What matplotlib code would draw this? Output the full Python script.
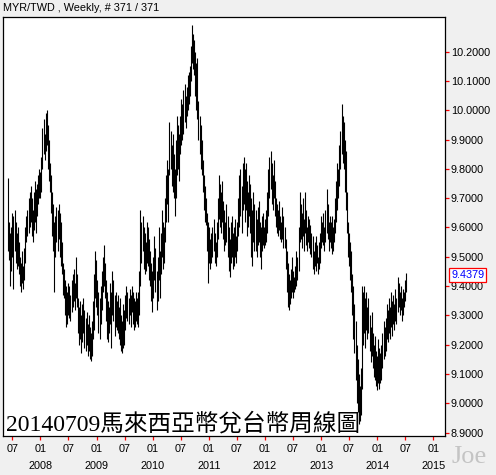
import matplotlib
matplotlib.use('Agg')
import matplotlib.pyplot as plt
import matplotlib.dates as mdates
import matplotlib.transforms as mtransforms
import pandas as pd

# ---- data (weekly high / low) ----
highs = [
    9.77, 9.62, 9.58, 9.60, 9.65, 9.64, 9.66, 9.62, 9.58, 9.60,
    9.55, 9.50, 9.48, 9.52, 9.47, 9.53, 9.60, 9.64, 9.66, 9.70,
    9.72, 9.74, 9.70, 9.66, 9.72, 9.76, 9.73, 9.75, 9.78, 9.80,
    9.79, 9.84, 9.94, 9.97, 9.92, 9.99, 10.00, 9.95, 9.90, 9.82,
    9.78, 9.72, 9.68, 9.62, 9.64, 9.67, 9.66, 9.68, 9.65, 9.62,
    9.55, 9.48, 9.46, 9.42, 9.40, 9.38, 9.41, 9.40, 9.37, 9.42,
    9.44, 9.46, 9.41, 9.50, 9.44, 9.36, 9.33, 9.35, 9.30, 9.34,
    9.36, 9.32, 9.29, 9.31, 9.27, 9.30, 9.26, 9.24, 9.28, 9.35,
    9.44, 9.52, 9.49, 9.42, 9.38, 9.36, 9.40, 9.45, 9.50, 9.54,
    9.48, 9.42, 9.38, 9.35, 9.33, 9.41, 9.38, 9.45, 9.42, 9.37,
    9.38, 9.35, 9.37, 9.33, 9.36, 9.30, 9.28, 9.34, 9.32, 9.37,
    9.40, 9.38, 9.36, 9.39, 9.37, 9.40, 9.38, 9.36, 9.35, 9.38,
    9.36, 9.38, 9.45, 9.66, 9.62, 9.64, 9.60, 9.58, 9.55, 9.62,
    9.60, 9.56, 9.52, 9.48, 9.45, 9.50, 9.57, 9.53, 9.45, 9.50,
    9.60, 9.52, 9.58, 9.66, 9.62, 9.60, 9.70, 9.78, 9.83, 9.80,
    9.96, 9.93, 9.88, 9.92, 9.85, 9.80, 9.90, 9.98, 9.95, 9.92,
    9.98, 10.04, 10.02, 10.07, 10.09, 10.05, 10.08, 10.12, 10.13, 10.15,
    10.22, 10.29, 10.26, 10.24, 10.20, 10.16, 10.18, 10.03, 9.98, 9.95,
    9.90, 9.83, 9.78, 9.74, 9.70, 9.65, 9.62, 9.60, 9.56, 9.58,
    9.60, 9.63, 9.58, 9.55, 9.62, 9.70, 9.78, 9.75, 9.72, 9.76,
    9.69, 9.66, 9.62, 9.68, 9.64, 9.60, 9.56, 9.62, 9.64, 9.58,
    9.60, 9.63, 9.57, 9.62, 9.70, 9.78, 9.80, 9.74, 9.82, 9.84,
    9.80, 9.82, 9.76, 9.72, 9.78, 9.75, 9.70, 9.66, 9.72, 9.68,
    9.66, 9.63, 9.67, 9.69, 9.62, 9.60, 9.64, 9.65, 9.60, 9.63,
    9.66, 9.72, 9.80, 9.84, 9.86, 9.82, 9.78, 9.83, 9.76, 9.70,
    9.68, 9.66, 9.69, 9.64, 9.62, 9.67, 9.64, 9.60, 9.56, 9.52,
    9.48, 9.44, 9.42, 9.46, 9.50, 9.45, 9.43, 9.47, 9.52, 9.50,
    9.60, 9.72, 9.68, 9.65, 9.70, 9.63, 9.72, 9.66, 9.60, 9.64,
    9.63, 9.61, 9.58, 9.57, 9.52, 9.55, 9.57, 9.54, 9.50, 9.55,
    9.58, 9.64, 9.62, 9.65, 9.60, 9.66, 9.73, 9.68, 9.62, 9.64,
    9.62, 9.64, 9.60, 9.63, 9.70, 9.76, 9.82, 9.80, 9.88, 9.93,
    10.02, 9.98, 9.96, 9.90, 9.86, 9.72, 9.62, 9.58, 9.55, 9.52,
    9.44, 9.40, 9.34, 9.28, 9.20, 9.15, 9.10, 9.06, 9.12, 9.40,
    9.38, 9.40, 9.36, 9.38, 9.33, 9.36, 9.30, 9.26, 9.31, 9.24,
    9.20, 9.23, 9.18, 9.16, 9.22, 9.19, 9.17, 9.20, 9.24, 9.28,
    9.26, 9.29, 9.34, 9.32, 9.36, 9.33, 9.38, 9.35, 9.37, 9.34,
    9.39, 9.36, 9.43, 9.41, 9.38, 9.40, 9.36, 9.39, 9.38, 9.42, 9.445,
]
lows = [
    9.52, 9.49, 9.40, 9.45, 9.50, 9.39, 9.52, 9.48, 9.46, 9.47,
    9.44, 9.40, 9.38, 9.41, 9.39, 9.42, 9.48, 9.55, 9.57, 9.58,
    9.60, 9.62, 9.57, 9.55, 9.59, 9.62, 9.58, 9.64, 9.68, 9.70,
    9.70, 9.72, 9.80, 9.85, 9.83, 9.86, 9.88, 9.80, 9.76, 9.72,
    9.65, 9.57, 9.52, 9.38, 9.50, 9.55, 9.52, 9.56, 9.50, 9.47,
    9.44, 9.37, 9.36, 9.30, 9.26, 9.27, 9.30, 9.29, 9.28, 9.31,
    9.33, 9.35, 9.32, 9.36, 9.33, 9.24, 9.20, 9.22, 9.17, 9.21,
    9.24, 9.19, 9.18, 9.20, 9.16, 9.18, 9.15, 9.145, 9.16, 9.22,
    9.25, 9.36, 9.33, 9.30, 9.24, 9.22, 9.27, 9.32, 9.38, 9.40,
    9.36, 9.28, 9.22, 9.21, 9.24, 9.27, 9.19, 9.30, 9.28, 9.23,
    9.26, 9.25, 9.24, 9.22, 9.20, 9.18, 9.17, 9.19, 9.20, 9.25,
    9.29, 9.28, 9.27, 9.30, 9.26, 9.31, 9.27, 9.25, 9.26, 9.28,
    9.27, 9.26, 9.30, 9.40, 9.48, 9.52, 9.46, 9.44, 9.45, 9.48,
    9.47, 9.42, 9.40, 9.35, 9.31, 9.36, 9.42, 9.38, 9.32, 9.35,
    9.42, 9.36, 9.44, 9.50, 9.46, 9.48, 9.55, 9.62, 9.68, 9.62,
    9.78, 9.80, 9.74, 9.72, 9.70, 9.64, 9.70, 9.78, 9.80, 9.76,
    9.85, 9.88, 9.90, 9.92, 9.96, 9.94, 9.98, 10.00, 10.02, 10.05,
    10.10, 10.16, 10.14, 10.12, 10.05, 10.00, 9.97, 9.90, 9.85, 9.80,
    9.78, 9.72, 9.66, 9.62, 9.61, 9.52, 9.41, 9.48, 9.46, 9.48,
    9.50, 9.52, 9.48, 9.47, 9.50, 9.56, 9.63, 9.60, 9.58, 9.62,
    9.56, 9.52, 9.54, 9.55, 9.50, 9.45, 9.43, 9.48, 9.50, 9.46,
    9.47, 9.50, 9.48, 9.52, 9.57, 9.60, 9.64, 9.58, 9.66, 9.68,
    9.62, 9.66, 9.57, 9.60, 9.64, 9.58, 9.50, 9.47, 9.55, 9.52,
    9.52, 9.50, 9.54, 9.55, 9.50, 9.46, 9.52, 9.54, 9.53, 9.54,
    9.55, 9.58, 9.64, 9.70, 9.73, 9.68, 9.66, 9.70, 9.64, 9.60,
    9.58, 9.57, 9.59, 9.56, 9.55, 9.56, 9.53, 9.53, 9.46, 9.38,
    9.33, 9.32, 9.34, 9.36, 9.38, 9.36, 9.38, 9.39, 9.40, 9.42,
    9.45, 9.55, 9.56, 9.53, 9.57, 9.52, 9.58, 9.54, 9.52, 9.55,
    9.53, 9.51, 9.50, 9.46, 9.44, 9.47, 9.45, 9.48, 9.44, 9.46,
    9.48, 9.53, 9.55, 9.54, 9.52, 9.55, 9.58, 9.56, 9.52, 9.55,
    9.53, 9.51, 9.52, 9.55, 9.58, 9.62, 9.66, 9.70, 9.74, 9.80,
    9.85, 9.82, 9.80, 9.72, 9.66, 9.58, 9.50, 9.47, 9.42, 9.38,
    9.30, 9.22, 9.17, 9.08, 9.00, 8.97, 8.93, 8.94, 8.96, 9.05,
    9.20, 9.24, 9.19, 9.25, 9.22, 9.24, 9.18, 9.14, 9.16, 9.12,
    9.09, 9.08, 9.06, 9.045, 9.07, 9.05, 9.07, 9.08, 9.12, 9.15,
    9.16, 9.18, 9.22, 9.21, 9.24, 9.22, 9.26, 9.23, 9.27, 9.25,
    9.28, 9.27, 9.31, 9.33, 9.30, 9.32, 9.28, 9.30, 9.33, 9.35, 9.38,
]
last_week = '2014-07-07'
last_close = 9.4379
title_text = 'MYR/TWD , Weekly, # 371 / 371'
caption_text = '20140709馬來西亞幣兌台幣周線圖'
y_ticks = [8.9, 9.0, 9.1, 9.2, 9.3, 9.4, 9.5, 9.6, 9.7, 9.8, 9.9, 10.0, 10.1, 10.2]
years = [2008, 2009, 2010, 2011, 2012, 2013, 2014, 2015]

dates = pd.date_range(end=last_week, periods=len(highs), freq='7D')

W, H = 496, 475
BG = '#f0f0f0'
fig = plt.figure(figsize=(W / 100, H / 100), dpi=100, facecolor=BG)
ax_l, ax_r, ax_t, ax_b = 3, 445, 16.5, 436
ax = fig.add_axes([ax_l / W, 1 - ax_b / H, (ax_r - ax_l) / W, (ax_b - ax_t) / H])
ax.set_facecolor('white')

ax.vlines(dates, lows, highs, color='black', linewidth=0.8, antialiased=True)

ax.set_xlim(mdates.date2num(pd.Timestamp('2007-05-02')), mdates.date2num(pd.Timestamp('2015-03-17')))
ax.set_ylim(8.8884, 10.320)

for s in ax.spines.values():
    s.set_color('black')
    s.set_linewidth(0.9)

# y axis on the right
ax.yaxis.tick_right()
ax.set_yticks(y_ticks)
ax.set_yticklabels([f'{v:.4f}' for v in y_ticks], fontfamily='Liberation Sans', fontsize=7.8)
ax.tick_params(axis='y', which='major', direction='out', length=3, width=0.9,
               color='red', labelcolor='black', pad=1.2)

# x ticks: Jan and Jul
tick_dates = pd.date_range('2007-07-01', '2015-01-01', freq='6MS')
ax.set_xticks(mdates.date2num(tick_dates))
ax.set_xticklabels([])
ax.tick_params(axis='x', which='major', direction='out', length=3, width=0.9, color='red')
xt = ax.get_xaxis_transform()
axh = ax_b - ax_t
for d in tick_dates:
    ax.text(mdates.date2num(d), -(449 - ax_b) / axh, d.strftime('%m'), transform=xt,
            ha='center', va='center', fontsize=7.8, fontfamily='Liberation Sans', clip_on=False)
for yv in years:
    ax.text(mdates.date2num(pd.Timestamp(f'{yv}-01-01')), -(466 - ax_b) / axh, str(yv),
            transform=xt, ha='center', va='center', fontsize=7.8,
            fontfamily='Liberation Sans', clip_on=False)

# last value label
trans = mtransforms.blended_transform_factory(ax.transAxes, ax.transData)
ax.text(1.0, last_close, f'{last_close:.4f}', transform=trans + mtransforms.ScaledTranslation(6 / 100, 0, fig.dpi_scale_trans),
        ha='left', va='center', color='blue', fontsize=7.8, fontfamily='Liberation Sans',
        bbox=dict(boxstyle='square,pad=0.18', fc='white', ec='red', lw=0.9), clip_on=False)

# title
fig.text(3 / W, 1 - 8 / H, title_text, ha='left', va='center', fontsize=7.8,
         fontfamily='Liberation Sans', color='black')

# caption inside the chart
fig.text(6 / W, 1 - 430 / H, caption_text, ha='left', va='baseline', fontsize=17,
         family=['Liberation Serif', 'Noto Sans CJK TC'], color='black', zorder=5)

# watermark
fig.text(451 / W, 1 - 457 / H, 'Joe', ha='left', va='center', fontsize=19,
         fontfamily='Liberation Serif', color='#c4c4c4')

fig.savefig('out.png', dpi=100, facecolor=BG)
